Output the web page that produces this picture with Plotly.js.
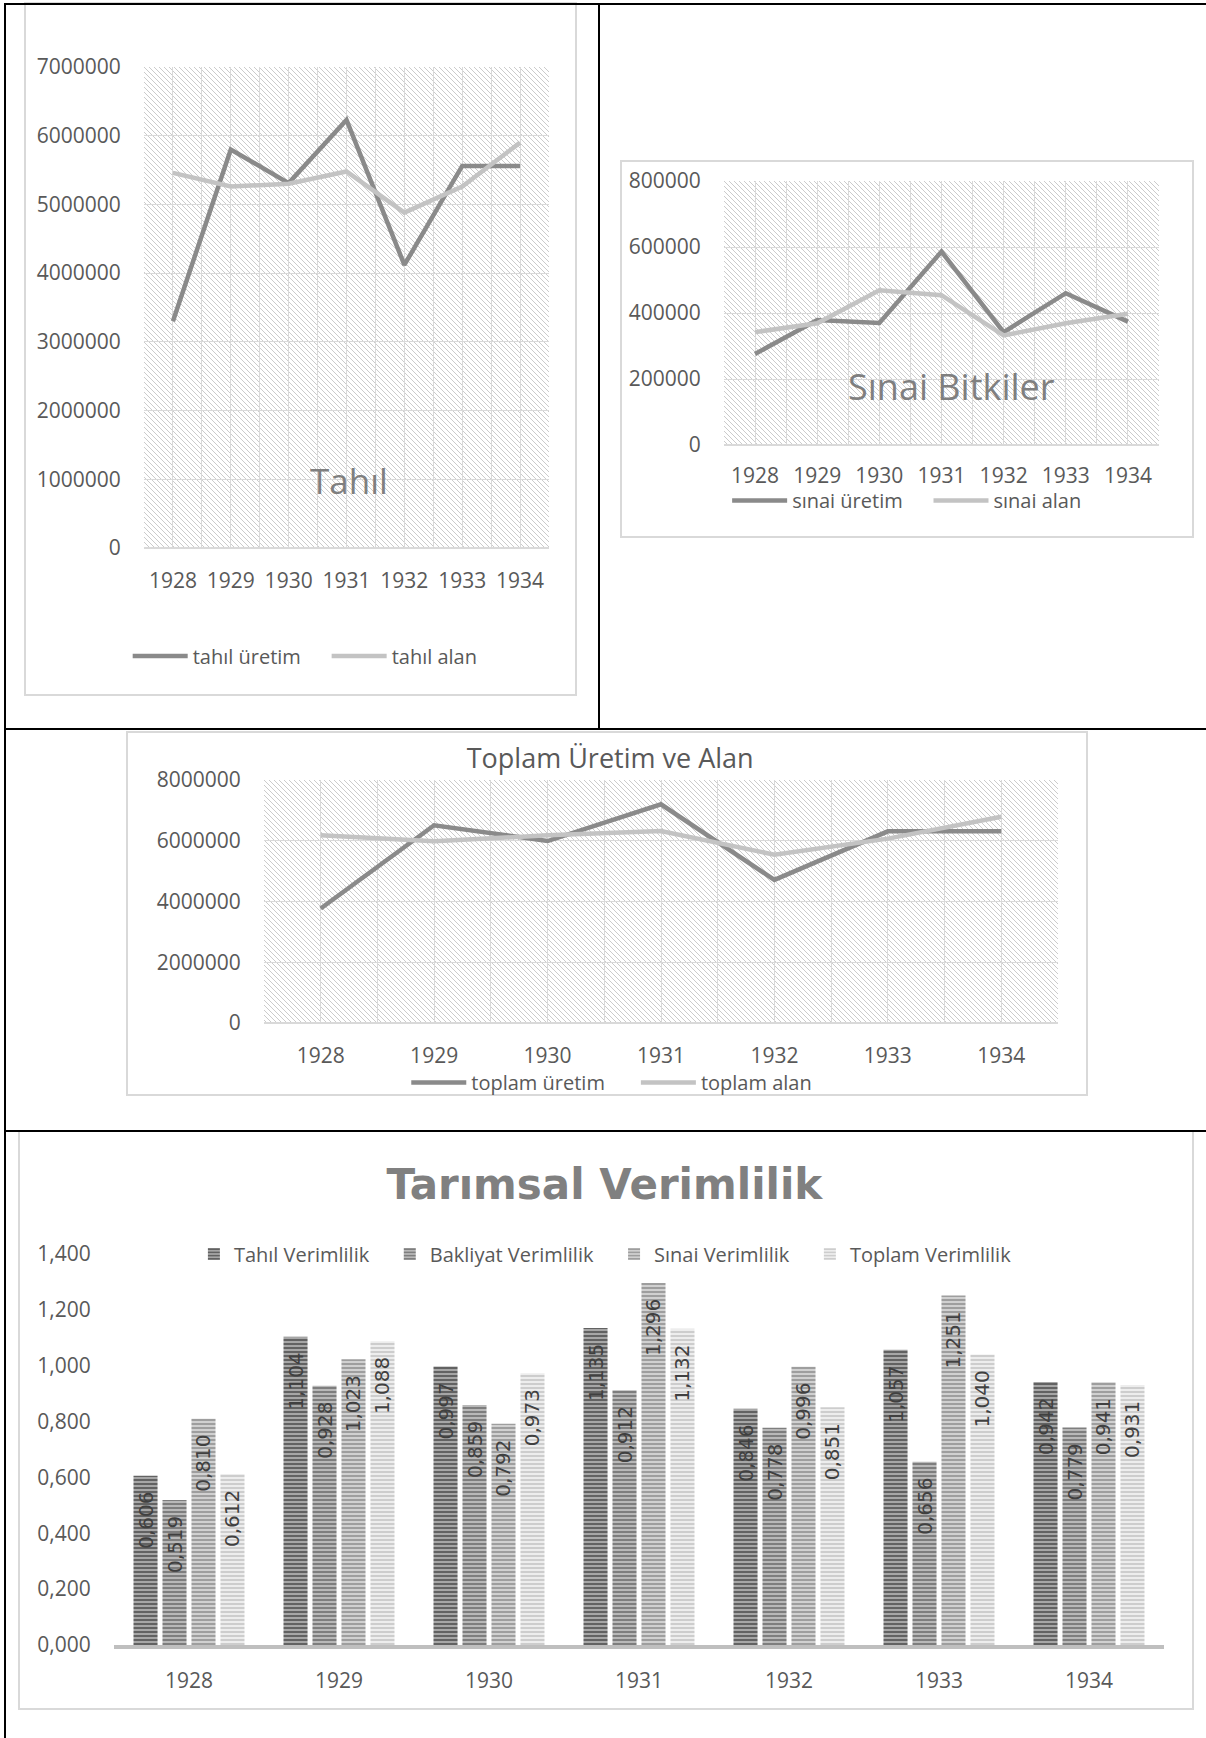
<!DOCTYPE html>
<html><head><meta charset="utf-8">
<script src="https://cdn.plot.ly/plotly-3.0.1.min.js"></script>
<style>
body{margin:0;background:#fff;width:1206px;height:1738px;position:relative;overflow:hidden;}
.ln{position:absolute;background:#000;z-index:5;}
.box{position:absolute;border:2px solid #d9d9d9;box-sizing:border-box;z-index:1;}
.ch{position:absolute;z-index:2;}
</style></head><body>
<div class="box" style="left:24px;top:2px;width:553px;height:694px"></div>
<div class="box" style="left:620px;top:160px;width:574px;height:378px"></div>
<div class="box" style="left:126px;top:731px;width:962px;height:365px"></div>
<div class="box" style="left:18px;top:1130px;width:1176px;height:580px"></div>

<div id="c1" class="ch" style="left:25px;top:4px;width:551px;height:711px"></div>
<div id="c2" class="ch" style="left:621px;top:161px;width:572px;height:396px"></div>
<div id="c3" class="ch" style="left:127px;top:732px;width:960px;height:393px"></div>
<div id="c4" class="ch" style="left:20px;top:1132px;width:1173px;height:576px"></div>

<div class="ln" style="left:4px;top:3px;width:1202px;height:2px"></div>
<div class="ln" style="left:4px;top:3px;width:2px;height:1735px"></div>
<div class="ln" style="left:598px;top:3px;width:2px;height:727px"></div>
<div class="ln" style="left:4px;top:728px;width:1202px;height:2px"></div>
<div class="ln" style="left:4px;top:1130px;width:1202px;height:2px"></div>

<script>
// ---- data ----
const years = [1928, 1929, 1930, 1931, 1932, 1933, 1934];
const tahilUretim = [3300000, 5800000, 5310000, 6230000, 4120000, 5560000, 5560000];
const tahilAlan   = [5460000, 5260000, 5300000, 5480000, 4880000, 5260000, 5900000];
const sinaiUretim = [276000, 379000, 370000, 586000, 342000, 460000, 374000];
const sinaiAlan   = [342000, 369000, 469000, 454000, 332000, 369000, 398000];
const toplamUretim = [3770000, 6510000, 5990000, 7200000, 4710000, 6310000, 6310000];
const toplamAlan   = [6180000, 5980000, 6180000, 6320000, 5540000, 6070000, 6790000];

const barYears = ['1928', '1929', '1930', '1931', '1932', '1933', '1934'];
const tahilVerimlilik   = [0.606, 1.104, 0.997, 1.135, 0.846, 1.057, 0.942];
const bakliyatVerimlilik = [0.519, 0.928, 0.859, 0.912, 0.778, 0.656, 0.779];
const sinaiVerimlilik   = [0.810, 1.023, 0.792, 1.296, 0.996, 1.251, 0.941];
const toplamVerimlilik  = [0.612, 1.088, 0.973, 1.132, 0.851, 1.040, 0.931];

// ---- helpers ----
const FONT = 'Open Sans, DejaVu Sans, sans-serif';
const TXT = '#595959';
const GRID = '#d9d9d9';
const DARK = '#8a8a8a';
const LIGHT = '#c3c3c3';
const NB = '\u00a0';
function pad(s, n) { return s + NB.repeat(n); }

function hatch(w, h) {
  const svg = "<svg xmlns='http://www.w3.org/2000/svg' width='" + w + "' height='" + h + "' viewBox='0 0 " + w + " " + h + "' preserveAspectRatio='none'>" +
    "<defs><pattern id='p' width='5' height='5' patternUnits='userSpaceOnUse'>" +
    "<path d='M0,0L5,5M-1,4L1,6M4,-1L6,1' stroke='#cbcbcb' stroke-width='1'/></pattern></defs>" +
    "<rect width='" + w + "' height='" + h + "' fill='#ffffff'/>" +
    "<rect width='" + w + "' height='" + h + "' fill='url(#p)'/></svg>";
  return 'data:image/svg+xml;charset=utf-8,' + encodeURIComponent(svg);
}

function lineChart(id, W, H, m, ymax, dtick, s1, s2, names, legendPos, xlen, extra) {
  const pw = W - m.l - m.r, ph = H - m.t - m.b;
  const traces = [
    {type: 'scatter', mode: 'lines', x: years, y: s1, name: names[0],
     line: {color: DARK, width: 4.5}, hoverinfo: 'skip'},
    {type: 'scatter', mode: 'lines', x: years, y: s2, name: names[1],
     line: {color: LIGHT, width: 4.5}, hoverinfo: 'skip'}
  ];
  const layout = Object.assign({
    width: W, height: H, margin: m,
    paper_bgcolor: 'rgba(0,0,0,0)', plot_bgcolor: 'rgba(0,0,0,0)',
    font: {family: FONT, size: 21, color: TXT},
    showlegend: true,
    legend: {orientation: 'h', x: legendPos[0], xanchor: 'center', y: legendPos[1], yanchor: 'middle',
             itemwidth: 55, font: {size: 20, color: TXT}, bgcolor: 'rgba(0,0,0,0)', traceorder: 'normal'},
    xaxis: {type: 'linear', range: [1927.5, 1934.5], tickmode: 'array', tickvals: years,
            ticktext: years.map(String), showgrid: true, gridcolor: GRID, gridwidth: 1,
            minor: {tickmode: 'linear', tick0: 1927.5, dtick: 1, showgrid: true, gridcolor: GRID, gridwidth: 1},
            zeroline: false, showline: false, ticks: 'outside', ticklen: xlen, tickcolor: 'rgba(0,0,0,0)',
            fixedrange: true},
    yaxis: {range: [0, ymax], dtick: dtick, tick0: 0, tickformat: 'd', showgrid: true, gridcolor: GRID,
            gridwidth: 1, zeroline: true, zerolinecolor: GRID, zerolinewidth: 2,
            ticks: 'outside', ticklen: 18, tickcolor: 'rgba(0,0,0,0)', fixedrange: true},
    images: [{source: hatch(pw, ph), xref: 'paper', yref: 'paper', x: 0, y: 1, sizex: 1, sizey: 1,
              xanchor: 'left', yanchor: 'top', sizing: 'stretch', layer: 'below'}]
  }, extra || {});
  Plotly.newPlot(id, traces, layout, {staticPlot: true, displayModeBar: false});
}

// Tahıl
lineChart('c1', 551, 711, {l: 119, r: 27, t: 63, b: 167, pad: 0}, 7000000, 1000000,
  tahilUretim, tahilAlan, [pad('tahıl üretim', 4), 'tahıl alan'], [0.398, -0.2245], 14,
  {annotations: [{text: 'Tahıl', xref: 'paper', yref: 'paper', x: 0.506, y: 0.141,
                  xanchor: 'center', yanchor: 'middle', showarrow: false,
                  font: {family: FONT, size: 35, color: '#7f7f7f'}}]});

// Sınai Bitkiler
lineChart('c2', 572, 396, {l: 103, r: 34, t: 20, b: 112, pad: 0}, 800000, 200000,
  sinaiUretim, sinaiAlan, [pad('sınai üretim', 4), 'sınai alan'], [0.421, -0.21], 12,
  {annotations: [{text: 'Sınai Bitkiler', xref: 'paper', yref: 'paper', x: 0.524, y: 0.22,
                  xanchor: 'center', yanchor: 'middle', showarrow: false,
                  font: {family: FONT, size: 36, color: '#7f7f7f'}}]});

// Toplam
lineChart('c3', 960, 393, {l: 137, r: 29, t: 48, b: 102, pad: 0}, 8000000, 2000000,
  toplamUretim, toplamAlan, [pad('toplam üretim', 5), 'toplam alan'], [0.438, -0.245], 14,
  {title: {text: 'Toplam Üretim ve Alan', xref: 'paper', x: 0.436, xanchor: 'center',
           yref: 'container', y: 1 - 26.5 / 393, yanchor: 'middle',
           font: {family: FONT, size: 27, color: TXT}}});

// Tarımsal Verimlilik
const barSeries = [
  {name: pad('Tahıl Verimlilik', 3), y: tahilVerimlilik, c: '#888888', fg: '#626262', bg: '#a6a6a6'},
  {name: pad('Bakliyat Verimlilik', 3), y: bakliyatVerimlilik, c: '#9c9c9c', fg: '#7e7e7e', bg: '#b8b8b8'},
  {name: pad('Sınai Verimlilik', 3), y: sinaiVerimlilik, c: '#b8b8b8', fg: '#9e9e9e', bg: '#d0d0d0'},
  {name: 'Toplam Verimlilik', y: toplamVerimlilik, c: '#dedede', fg: '#cdcdcd', bg: '#ededed'}
];
const barTraces = barSeries.map(s => ({
  type: 'bar', name: s.name, x: barYears, y: s.y,
  marker: {color: s.c, line: {width: 0},
           pattern: {shape: '-', fgcolor: s.fg, bgcolor: s.bg, size: 4, solidity: 0.5}},
  texttemplate: '%{y:.3f}\u00a0\u00a0', textposition: 'inside', insidetextanchor: 'end',
  textangle: -90, constraintext: 'none',
  textfont: {family: 'DejaVu Sans, sans-serif', size: 20, color: '#404040'},
  hoverinfo: 'skip'
}));
Plotly.newPlot('c4', barTraces, {
  width: 1173, height: 576, margin: {l: 94, r: 29, t: 122, b: 63, pad: 0},
  paper_bgcolor: 'rgba(0,0,0,0)', plot_bgcolor: 'rgba(0,0,0,0)',
  separators: ',.',
  font: {family: FONT, size: 21, color: TXT},
  barmode: 'group', bargap: 0.227, bargroupgap: 0.17,
  uniformtext: {mode: 'show', minsize: 20},
  title: {text: 'Tarımsal Verimlilik', xref: 'paper', x: 0.467, xanchor: 'center',
          yref: 'container', y: 0.91, yanchor: 'middle',
          font: {family: 'DejaVu Sans, sans-serif', size: 42, weight: 'bold', color: '#808080'}},
  showlegend: true,
  legend: {orientation: 'h', x: 0.468, xanchor: 'center', y: 1.0, yanchor: 'middle',
           font: {size: 20, color: TXT}, bgcolor: 'rgba(0,0,0,0)', traceorder: 'normal'},
  xaxis: {type: 'category', showgrid: false, zeroline: false, showline: true, linecolor: '#bfbfbf',
          linewidth: 4, ticks: 'outside', ticklen: 14, tickcolor: 'rgba(0,0,0,0)', fixedrange: true},
  yaxis: {range: [0, 1.4], dtick: 0.2, tick0: 0, tickformat: '.3f', showgrid: false, zeroline: false,
          ticks: 'outside', ticklen: 18, tickcolor: 'rgba(0,0,0,0)', fixedrange: true}
}, {staticPlot: true, displayModeBar: false});
</script>
</body></html>
